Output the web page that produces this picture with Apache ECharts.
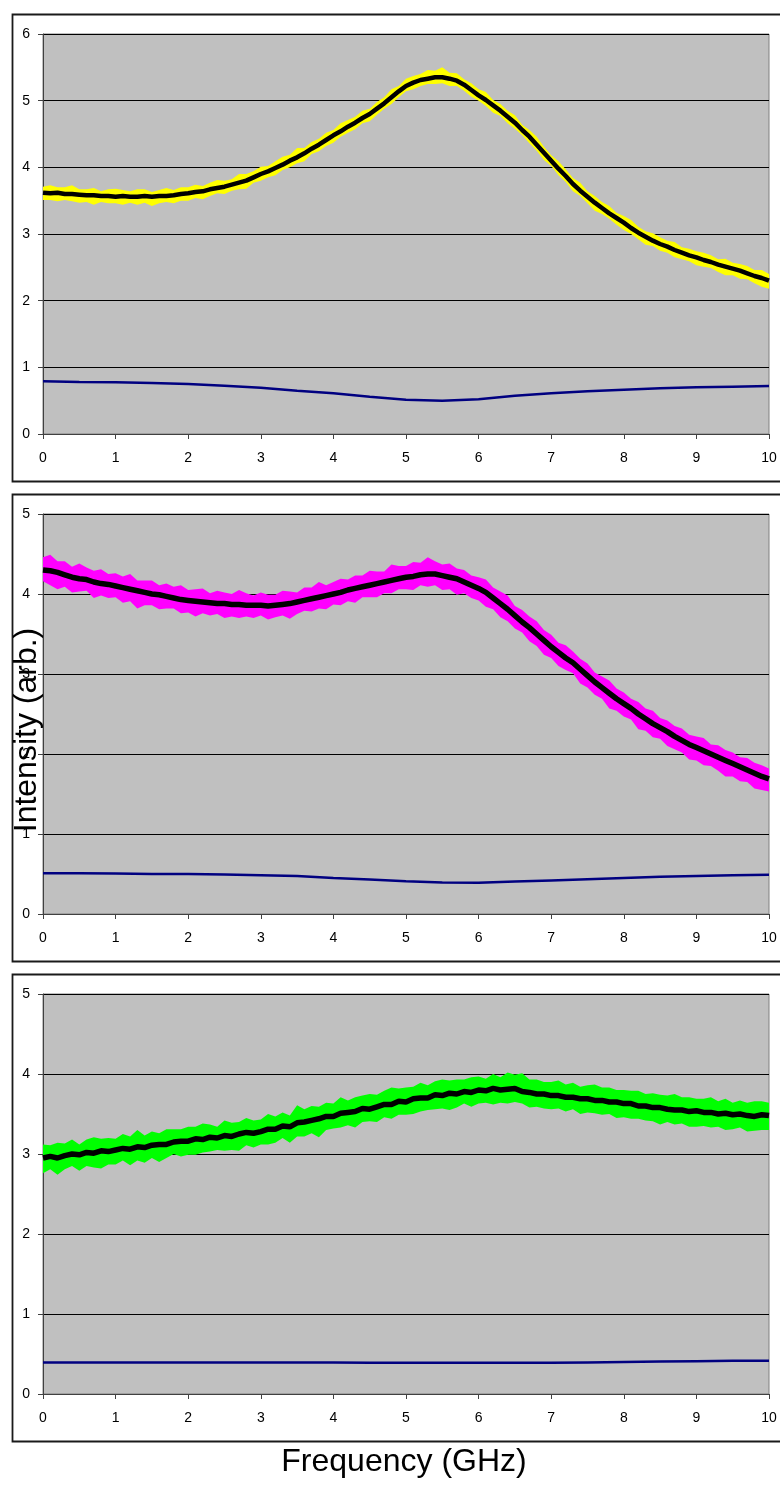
<!DOCTYPE html>
<html>
<head>
<meta charset="utf-8">
<script src="https://cdn.jsdelivr.net/npm/echarts@6.0.0/dist/echarts.min.js"></script>
<style>
html,body{margin:0;padding:0;background:#fff;}
#chart{width:780px;height:1502px;}
</style>
</head>
<body>
<div id="chart"></div>
<script>
// ---- data ----
const xTitle = "Frequency (GHz)";
const yTitle = "Intensity (arb.)";
const yMax = [6, 5, 5];

const freq = [
0,0.1,0.2,0.3,0.4,0.5,0.6,0.7,0.8,0.9,
1,1.1,1.2,1.3,1.4,1.5,1.6,1.7,1.8,1.9,
2,2.1,2.2,2.3,2.4,2.5,2.6,2.7,2.8,2.9,
3,3.1,3.2,3.3,3.4,3.5,3.6,3.7,3.8,3.9,
4,4.1,4.2,4.3,4.4,4.5,4.6,4.7,4.8,4.9,
5,5.1,5.2,5.3,5.4,5.5,5.6,5.7,5.8,5.9,
6,6.1,6.2,6.3,6.4,6.5,6.6,6.7,6.8,6.9,
7,7.1,7.2,7.3,7.4,7.5,7.6,7.7,7.8,7.9,
8,8.1,8.2,8.3,8.4,8.5,8.6,8.7,8.8,8.9,
9,9.1,9.2,9.3,9.4,9.5,9.6,9.7,9.8,9.9,
10];

// averaged (black) traces
const avg1 = [
3.62,3.61,3.62,3.60,3.60,3.59,3.58,3.58,3.57,3.57,
3.56,3.57,3.56,3.56,3.57,3.56,3.57,3.57,3.58,3.60,
3.61,3.63,3.64,3.67,3.69,3.71,3.74,3.77,3.80,3.85,
3.90,3.94,3.99,4.04,4.10,4.15,4.21,4.28,4.34,4.41,
4.48,4.54,4.61,4.67,4.74,4.80,4.88,4.96,5.05,5.14,
5.22,5.27,5.31,5.33,5.35,5.35,5.33,5.30,5.24,5.16,
5.08,5.01,4.93,4.85,4.76,4.67,4.56,4.46,4.34,4.22,
4.10,3.98,3.87,3.75,3.65,3.56,3.47,3.39,3.31,3.24,
3.17,3.09,3.02,2.96,2.90,2.85,2.81,2.76,2.72,2.68,
2.65,2.61,2.58,2.54,2.51,2.48,2.45,2.41,2.37,2.34,
2.30];
const avg2 = [
4.30,4.29,4.27,4.24,4.21,4.19,4.18,4.15,4.13,4.12,
4.10,4.08,4.06,4.04,4.02,4.00,3.99,3.97,3.95,3.93,
3.92,3.91,3.90,3.89,3.88,3.88,3.87,3.87,3.86,3.86,
3.86,3.85,3.86,3.87,3.88,3.90,3.92,3.94,3.96,3.98,
4.00,4.02,4.05,4.07,4.09,4.11,4.13,4.15,4.17,4.19,
4.21,4.22,4.24,4.25,4.25,4.23,4.21,4.19,4.15,4.11,
4.07,4.02,3.95,3.88,3.81,3.73,3.65,3.58,3.50,3.42,
3.34,3.27,3.20,3.14,3.06,2.98,2.90,2.83,2.76,2.69,
2.63,2.57,2.50,2.44,2.38,2.33,2.28,2.22,2.17,2.12,
2.08,2.04,2.00,1.96,1.92,1.88,1.84,1.80,1.76,1.72,
1.69];
const avg3 = [
2.95,2.97,2.95,2.98,3.00,2.99,3.02,3.01,3.04,3.03,
3.05,3.07,3.06,3.09,3.08,3.11,3.12,3.12,3.15,3.16,
3.16,3.19,3.18,3.21,3.20,3.23,3.22,3.25,3.27,3.26,
3.28,3.31,3.31,3.35,3.34,3.39,3.40,3.42,3.44,3.47,
3.47,3.51,3.52,3.53,3.57,3.56,3.59,3.62,3.62,3.66,
3.65,3.69,3.70,3.70,3.74,3.73,3.76,3.75,3.78,3.77,
3.80,3.79,3.82,3.80,3.81,3.82,3.78,3.77,3.75,3.75,
3.73,3.73,3.71,3.71,3.69,3.69,3.67,3.67,3.65,3.65,
3.63,3.63,3.60,3.60,3.58,3.58,3.56,3.55,3.55,3.53,
3.54,3.52,3.52,3.50,3.51,3.49,3.50,3.48,3.47,3.49,
3.48];

const up1 = [
0.09,0.12,0.08,0.10,0.13,0.08,0.09,0.11,0.07,0.10,
0.12,0.09,0.08,0.11,0.10,0.07,0.09,0.12,0.08,0.10,
0.09,0.11,0.08,0.10,0.12,0.09,0.08,0.13,0.10,0.09,
0.11,0.08,0.10,0.12,0.09,0.14,0.08,0.10,0.09,0.11,
0.08,0.12,0.10,0.09,0.11,0.08,0.10,0.09,0.12,0.08,
0.11,0.10,0.09,0.13,0.10,0.15,0.09,0.11,0.08,0.10,
0.09,0.12,0.08,0.10,0.09,0.11,0.08,0.10,0.12,0.09,
0.08,0.11,0.10,0.09,0.12,0.08,0.10,0.09,0.11,0.08,
0.10,0.12,0.09,0.08,0.11,0.10,0.09,0.12,0.08,0.10,
0.09,0.11,0.10,0.08,0.12,0.09,0.10,0.11,0.09,0.12,
0.10];
const dn1 = [
0.11,0.10,0.13,0.09,0.11,0.12,0.10,0.14,0.09,0.11,
0.10,0.13,0.09,0.12,0.10,0.14,0.11,0.09,0.12,0.10,
0.11,0.09,0.12,0.10,0.08,0.11,0.09,0.10,0.12,0.08,
0.10,0.09,0.11,0.08,0.10,0.09,0.12,0.08,0.10,0.09,
0.11,0.08,0.09,0.10,0.08,0.11,0.09,0.08,0.10,0.09,
0.08,0.10,0.09,0.08,0.10,0.09,0.11,0.08,0.09,0.10,
0.08,0.09,0.11,0.08,0.10,0.09,0.08,0.10,0.09,0.11,
0.08,0.10,0.09,0.11,0.08,0.10,0.12,0.09,0.08,0.10,
0.11,0.09,0.10,0.12,0.08,0.10,0.09,0.11,0.10,0.09,
0.12,0.10,0.09,0.11,0.13,0.10,0.12,0.09,0.11,0.13,
0.12];
const up2 = [
0.16,0.20,0.14,0.17,0.13,0.19,0.15,0.14,0.18,0.13,
0.16,0.14,0.19,0.13,0.15,0.17,0.12,0.16,0.14,0.18,
0.13,0.15,0.17,0.12,0.16,0.14,0.13,0.18,0.15,0.12,
0.16,0.14,0.13,0.17,0.15,0.12,0.16,0.14,0.19,0.13,
0.15,0.17,0.13,0.16,0.14,0.18,0.15,0.13,0.20,0.16,
0.14,0.18,0.15,0.21,0.16,0.14,0.17,0.13,0.15,0.12,
0.14,0.16,0.13,0.15,0.17,0.12,0.15,0.14,0.16,0.13,
0.15,0.12,0.16,0.14,0.13,0.15,0.12,0.14,0.16,0.13,
0.14,0.12,0.15,0.13,0.16,0.12,0.14,0.13,0.15,0.12,
0.14,0.16,0.12,0.15,0.13,0.14,0.12,0.15,0.13,0.14,
0.13];
const dn2 = [
0.14,0.18,0.21,0.15,0.19,0.16,0.14,0.20,0.15,0.17,
0.14,0.19,0.15,0.22,0.16,0.14,0.18,0.15,0.13,0.17,
0.15,0.19,0.14,0.16,0.13,0.18,0.15,0.17,0.14,0.16,
0.13,0.17,0.15,0.14,0.19,0.15,0.13,0.16,0.14,0.17,
0.13,0.16,0.14,0.18,0.13,0.15,0.17,0.14,0.16,0.13,
0.15,0.17,0.13,0.16,0.14,0.18,0.15,0.20,0.14,0.16,
0.15,0.18,0.14,0.17,0.15,0.16,0.13,0.17,0.15,0.18,
0.14,0.17,0.15,0.13,0.18,0.15,0.16,0.14,0.19,0.15,
0.16,0.14,0.19,0.15,0.17,0.14,0.18,0.16,0.15,0.19,
0.16,0.18,0.15,0.17,0.20,0.16,0.18,0.15,0.19,0.17,
0.16];
const up3 = [
0.17,0.14,0.19,0.15,0.18,0.13,0.16,0.20,0.15,0.17,
0.14,0.18,0.16,0.21,0.15,0.17,0.14,0.19,0.16,0.15,
0.18,0.15,0.20,0.16,0.14,0.19,0.17,0.15,0.18,0.16,
0.15,0.19,0.16,0.17,0.14,0.22,0.16,0.18,0.15,0.17,
0.16,0.20,0.15,0.18,0.16,0.19,0.15,0.17,0.21,0.16,
0.18,0.15,0.19,0.16,0.17,0.20,0.16,0.18,0.15,0.19,
0.17,0.15,0.18,0.16,0.21,0.17,0.23,0.16,0.18,0.15,
0.17,0.19,0.16,0.18,0.15,0.17,0.20,0.16,0.18,0.15,
0.17,0.16,0.19,0.15,0.18,0.16,0.17,0.20,0.16,0.18,
0.15,0.17,0.19,0.16,0.18,0.15,0.17,0.16,0.19,0.17,
0.16];
const dn3 = [
0.19,0.16,0.21,0.17,0.15,0.20,0.17,0.18,0.22,0.16,
0.18,0.15,0.20,0.17,0.19,0.16,0.22,0.17,0.15,0.19,
0.17,0.20,0.16,0.18,0.15,0.19,0.17,0.21,0.16,0.18,
0.16,0.19,0.17,0.15,0.20,0.17,0.18,0.16,0.23,0.17,
0.15,0.18,0.16,0.20,0.17,0.15,0.19,0.16,0.18,0.17,
0.16,0.19,0.17,0.15,0.18,0.16,0.21,0.17,0.15,0.18,
0.17,0.15,0.20,0.16,0.18,0.17,0.15,0.19,0.16,0.18,
0.17,0.16,0.18,0.15,0.19,0.17,0.16,0.18,0.15,0.20,
0.17,0.19,0.16,0.18,0.17,0.21,0.16,0.18,0.17,0.19,
0.20,0.17,0.19,0.16,0.21,0.18,0.17,0.20,0.18,0.19,
0.18];

// blue reference traces
const blueFreq = [0,0.5,1,1.5,2,2.5,3,3.5,4,4.5,5,5.5,6,6.5,7,7.5,8,8.5,9,9.5,10];
const blue1 = [0.79,0.78,0.775,0.765,0.75,0.725,0.695,0.65,0.61,0.56,0.515,0.50,0.52,0.575,0.61,0.64,0.665,0.685,0.70,0.71,0.72];
const blue2 = [0.51,0.51,0.505,0.50,0.50,0.495,0.485,0.475,0.45,0.43,0.41,0.395,0.39,0.405,0.42,0.435,0.45,0.465,0.475,0.485,0.49];
const blue3 = [0.395,0.395,0.395,0.395,0.395,0.395,0.395,0.395,0.395,0.39,0.39,0.39,0.39,0.39,0.39,0.395,0.40,0.405,0.41,0.415,0.415];

const panels = [
  {avg: avg1, up: up1, dn: dn1, blue: blue1, color: '#FFFF00'},
  {avg: avg2, up: up2, dn: dn2, blue: blue2, color: '#FF00FF'},
  {avg: avg3, up: up3, dn: dn3, blue: blue3, color: '#00FF00'}
];

// ---- layout ----
const FONT = '"Liberation Sans", Arial, sans-serif';
const frameTops = [12, 492, 972];
const gridTops = [34, 514, 994];

const grids = [], xAxes = [], yAxes = [], series = [], graphics = [];

panels.forEach((p, k) => {
  grids.push({left: 43, top: gridTops[k], width: 726, height: 400,
    show: true, backgroundColor: '#C0C0C0', borderColor: '#808080', borderWidth: 1,
    containLabel: false, outerBoundsMode: 'none'});
  xAxes.push({type: 'value', gridIndex: k, min: 0, max: 10, interval: 1,
    axisLine: {show: true, onZero: false, lineStyle: {color: '#404040', width: 1}},
    axisTick: {show: true, length: 5, inside: false, lineStyle: {color: '#404040'}},
    axisLabel: {color: '#000', fontSize: 14, fontFamily: FONT, margin: 17, showMinLabel: true, showMaxLabel: true},
    splitLine: {show: false}});
  yAxes.push({type: 'value', gridIndex: k, min: 0, max: yMax[k], interval: 1,
    axisLine: {show: true, onZero: false, lineStyle: {color: '#404040', width: 1}},
    axisTick: {show: true, length: 5, inside: false, lineStyle: {color: '#404040'}},
    axisLabel: {color: '#000', fontSize: 14, fontFamily: FONT, margin: 13, showMinLabel: true, showMaxLabel: true},
    splitLine: {show: true, lineStyle: {color: '#000', width: 1}}});

  const bandData = freq.map((f, i) => [f, p.avg[i] - p.dn[i], p.avg[i] + p.up[i]]);
  series.push({
    type: 'custom', xAxisIndex: k, yAxisIndex: k, silent: true, clip: true,
    encode: {x: 0, y: [1, 2]},
    data: bandData,
    renderItem: function (params, api) {
      if (params.dataIndex !== 0) return null;
      const pts = [];
      for (let i = 0; i < bandData.length; i++) pts.push(api.coord([bandData[i][0], bandData[i][2]]));
      for (let i = bandData.length - 1; i >= 0; i--) pts.push(api.coord([bandData[i][0], bandData[i][1]]));
      return {type: 'polygon', shape: {points: pts}, style: {fill: p.color}};
    },
    z: 2
  });
  series.push({
    type: 'line', xAxisIndex: k, yAxisIndex: k, showSymbol: false, symbol: 'none',
    data: freq.map((f, i) => [f, p.avg[i]]),
    lineStyle: {color: '#000', width: k === 0 ? 4.5 : 5.5}, z: 3, silent: true
  });
  series.push({
    type: 'line', xAxisIndex: k, yAxisIndex: k, showSymbol: false, symbol: 'none',
    data: blueFreq.map((f, i) => [f, p.blue[i]]),
    lineStyle: {color: '#000080', width: 2.5}, z: 3, silent: true
  });

  graphics.push({type: 'rect', left: 10, top: frameTops[k], silent: true,
    shape: {x: 0, y: 0, width: 800, height: 467},
    style: {fill: 'none', stroke: '#1a1a1a', lineWidth: 1.8}, z: 1});
});

graphics.push({type: 'text', x: 404, y: 1462, z: 100, silent: true,
  style: {text: xTitle, font: '32px ' + FONT, fill: '#000', textAlign: 'center', textVerticalAlign: 'middle'}});
graphics.push({type: 'text', x: 27, y: 730, rotation: Math.PI / 2, z: 100, silent: true,
  style: {text: yTitle, font: '32px ' + FONT, fill: '#000', textAlign: 'center', textVerticalAlign: 'middle'}});

const chart = echarts.init(document.getElementById('chart'), null, {renderer: 'canvas'});
chart.setOption({
  animation: false,
  backgroundColor: '#fff',
  grid: grids, xAxis: xAxes, yAxis: yAxes, series: series,
  graphic: graphics
});
</script>
</body>
</html>
